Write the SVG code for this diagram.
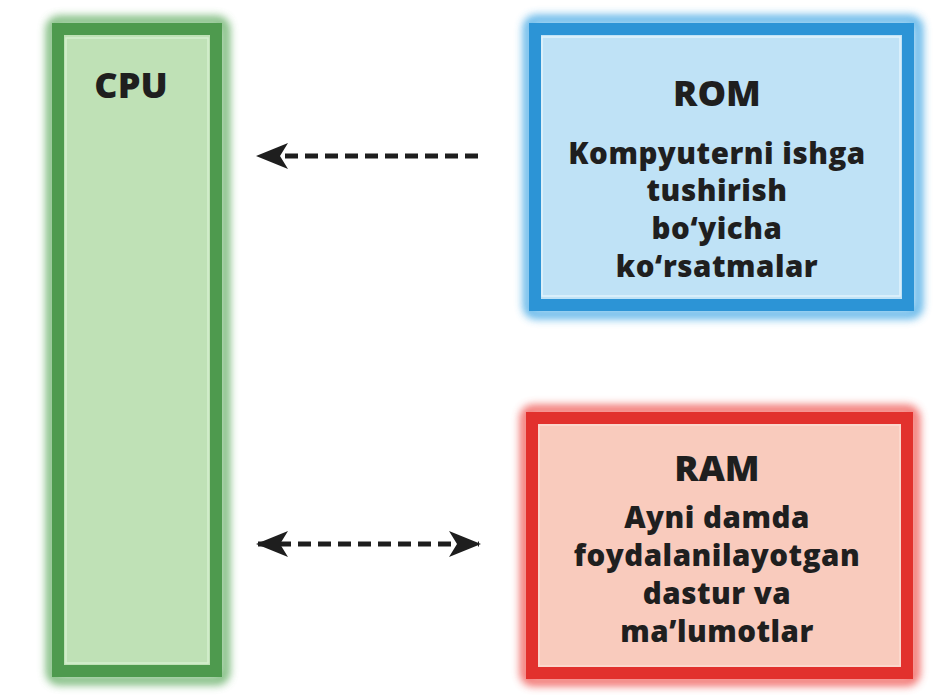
<svg xmlns="http://www.w3.org/2000/svg" width="938" height="695" viewBox="0 0 938 695">
<defs>
<filter id="glow" x="-10%" y="-10%" width="120%" height="120%"><feGaussianBlur stdDeviation="4"/></filter>
<marker id="ah" viewBox="0 0 32 26" refX="30" refY="13" markerWidth="32" markerHeight="26" markerUnits="userSpaceOnUse" orient="auto-start-reverse">
<path d="M0,0 L32,13 L0,26 L8,13 Z" fill="#1e1e1e"/>
</marker>
<style>
.t{font-family:"Open Sans","Liberation Sans",sans-serif;font-weight:800;fill:#1f1f1f;text-anchor:middle}
.h{font-size:36px}
.b{font-size:29.5px;letter-spacing:0.5px}
.conn{stroke:#1e1e1e;stroke-width:5;stroke-dasharray:13 7;fill:none}
</style>
</defs>
<rect width="938" height="695" fill="#ffffff"/>
<g id="cpu">
<rect x="51" y="21" width="174" height="659" rx="8" fill="none" stroke="#5aa85a" stroke-width="10" filter="url(#glow)" opacity="0.8"/>
<rect x="58" y="29" width="158" height="642" fill="#bfe1b6" stroke="#4e9a4e" stroke-width="12"/>
<rect x="66" y="38" width="142" height="625" fill="none" stroke="#d6efcf" stroke-width="1.5"/>
<text class="t h" x="131" y="98">CPU</text>
</g>
<g id="rom">
<rect x="528" y="20" width="390" height="294" rx="8" fill="none" stroke="#39a3e3" stroke-width="10" filter="url(#glow)" opacity="0.8"/>
<rect x="535" y="29" width="373" height="276" fill="#bfe2f6" stroke="#2c94d6" stroke-width="12"/>
<rect x="542" y="37" width="358" height="259" fill="none" stroke="#e2f3fc" stroke-width="1.5"/>
<text class="t h" x="717" y="106">ROM</text>
<text class="t b" x="717" y="164">Kompyuterni ishga</text>
<text class="t b" x="717" y="201">tushirish</text>
<text class="t b" x="717" y="239">bo‘yicha</text>
<text class="t b" x="717" y="277">ko‘rsatmalar</text>
</g>
<g id="ram">
<rect x="525" y="410" width="390" height="271" rx="8" fill="none" stroke="#ee4a44" stroke-width="10" filter="url(#glow)" opacity="0.8"/>
<rect x="532" y="418" width="375" height="255" fill="#f9cbbd" stroke="#e2312d" stroke-width="12"/>
<rect x="539" y="425" width="361" height="241" fill="none" stroke="#fbdcd2" stroke-width="1.5"/>
<text class="t h" x="717" y="481">RAM</text>
<text class="t b" x="717" y="528">Ayni damda</text>
<text class="t b" x="717" y="566">foydalanilayotgan</text>
<text class="t b" x="717" y="604">dastur va</text>
<text class="t b" x="717" y="642">ma’lumotlar</text>
</g>
<g id="connectors">
<path class="conn" d="M478,156 L258,156" marker-end="url(#ah)"/>
<path class="conn" d="M258,544 L479,544" marker-start="url(#ah)" marker-end="url(#ah)"/>
</g>
</svg>
